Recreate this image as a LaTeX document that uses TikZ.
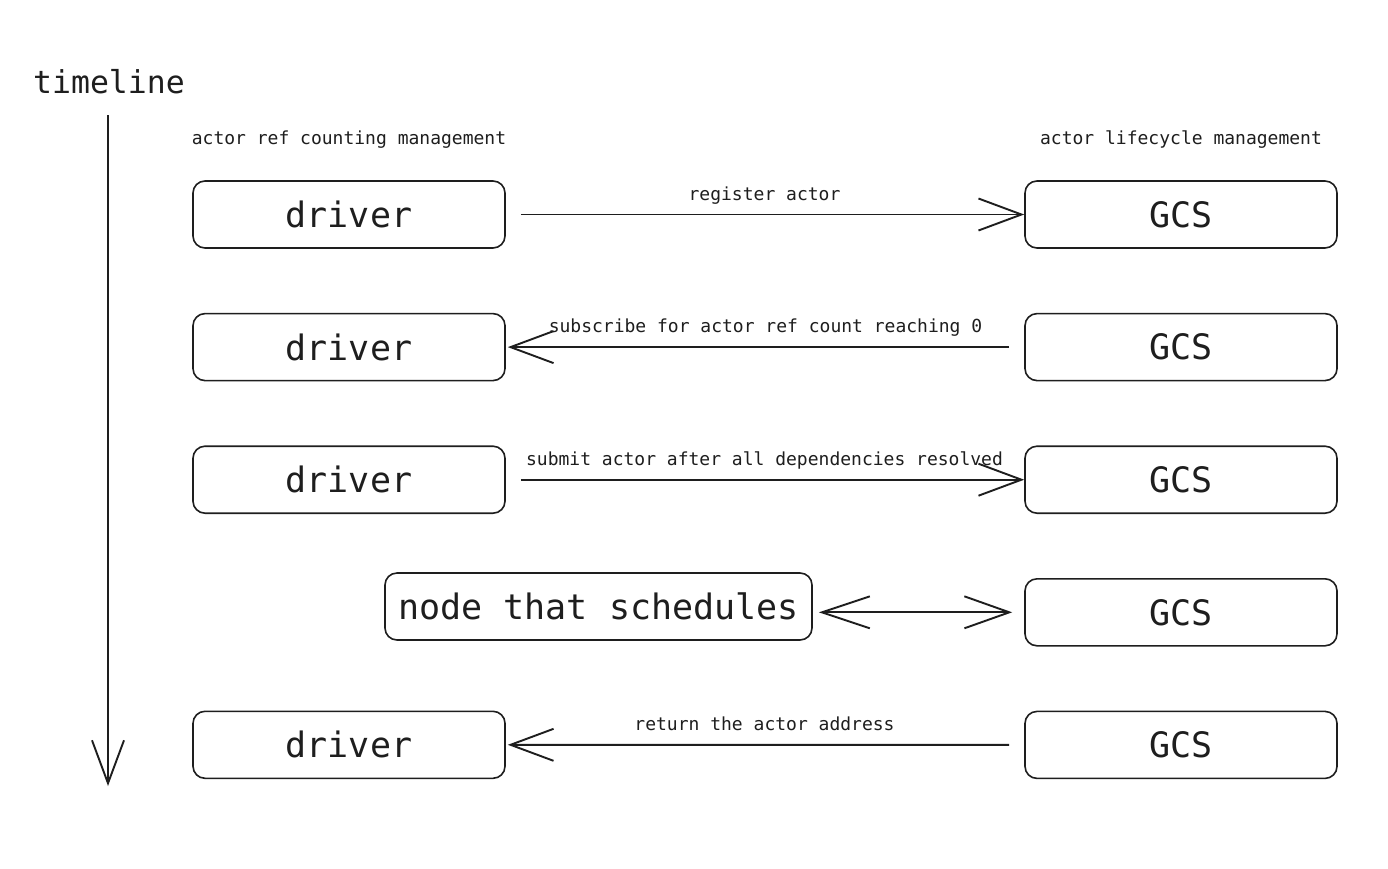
\documentclass[tikz,border=0pt]{standalone}
\usepackage{fontspec}
\setmonofont{DejaVu Sans Mono}
\usepackage{xcolor}
\usepackage{tikz}
\usetikzlibrary{positioning,arrows.meta}

\definecolor{ink}{HTML}{1E1E1E}

\begin{document}
\begin{tikzpicture}[
  x=1pt, y=-1pt,
  font=\ttfamily,
  box/.style={draw=ink, rounded corners=12pt, line width=1.6pt, minimum width=312pt, minimum height=67pt, text=ink, font=\ttfamily\fontsize{35}{38}\selectfont},
  head/.style={text=ink, font=\ttfamily\fontsize{18}{20}\selectfont},
  msg/.style={above=6pt, text=ink, text depth=4pt, font=\ttfamily\fontsize{18}{20}\selectfont},
  arrow/.style={-{Straight Barb[length=43pt, width=32pt]}, line width=1.9pt, draw=ink},
  node distance=64pt
]
\useasboundingbox[fill=white] (0,0) rectangle (1388,868);

\node[text=ink, font=\ttfamily\fontsize{31.5}{34}\selectfont] (tl) at (109,82) {timeline};
\coordinate (tlTop) at (108,115);
\coordinate (tlEnd) at (108,786);

\node[head] (hdrv) at (349,140) {actor ref counting management};
\node[head] (hgcs) at (1181,140) {actor lifecycle management};

\node[box] (drvA) at (349,214.5) {driver};
\node[box, below=of drvA] (drvB) {driver};
\node[box, below=of drvB] (drvC) {driver};
\node[box, below=196.5pt of drvC] (drvE) {driver};
\node[box, minimum width=427pt] (sched) at (598.5,606.5) {node that schedules};

\node[box] (gcsA) at (1181,214.5) {GCS};
\node[box, below=of gcsA] (gcsB) {GCS};
\node[box, below=of gcsB] (gcsC) {GCS};
\node[box, below=of gcsC] (gcsD) {GCS};
\node[box, below=of gcsD] (gcsE) {GCS};

\draw[arrow] (tlTop) -- (tlEnd);
\draw[arrow] ([xshift=15pt]drvA.east) -- node[msg, xshift=-8pt] {register actor} (gcsA.west);
\draw[arrow] ([xshift=-15pt]gcsB.west) -- node[msg, xshift=7pt] {subscribe for actor ref count reaching 0} ([xshift=2pt]drvB.east);
\draw[arrow] ([xshift=15pt]drvC.east) -- node[msg, xshift=-8pt] {submit actor after all dependencies resolved} (gcsC.west);
\draw[arrow, {Straight Barb[length=48pt, width=32pt]}-{Straight Barb[length=45pt, width=32pt]}] ([xshift=6pt]sched.east |- gcsD.west) -- ([xshift=-12pt]gcsD.west);
\draw[arrow] ([xshift=-15pt]gcsE.west) -- node[msg, xshift=6pt] {return the actor address} ([xshift=2pt]drvE.east);
\end{tikzpicture}
\end{document}
